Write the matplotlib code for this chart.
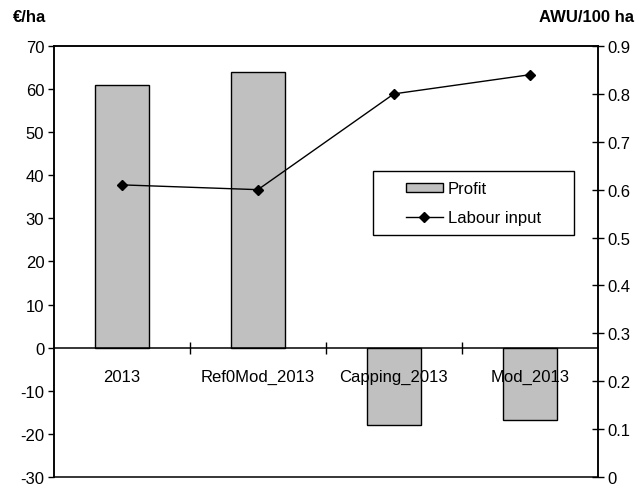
import matplotlib
matplotlib.use('Agg')
import matplotlib.pyplot as plt
from matplotlib.patches import Patch, Rectangle
from matplotlib.lines import Line2D

plt.rcParams['font.family'] = ['Liberation Sans', 'DejaVu Sans']
plt.rcParams['axes.unicode_minus'] = False

scenarios = ['2013', 'Ref0Mod_2013', 'Capping_2013', 'Mod_2013']
profit = [61, 64, -18.0, -16.7]
labour = [0.61, 0.60, 0.80, 0.84]

fig = plt.figure(figsize=(6.4, 4.89), dpi=100)
ax = fig.add_axes([0.0844, 0.0225, 0.8496, 0.8814])
ax.set_axisbelow(False)

x = list(range(len(scenarios)))
ax.bar(x, profit, width=0.4, color='#c0c0c0', edgecolor='black', linewidth=1.0, zorder=2)
ax.set_xlim(-0.5, 3.5)
ax.set_ylim(-30, 70)
ax.set_yticks(range(-30, 80, 10))
ax.tick_params(axis='y', direction='out', length=4, width=1, labelsize=12, pad=3)

# category axis sits on the zero line
ax.spines['bottom'].set_position(('data', 0))
ax.set_xticks([0.5, 1.5, 2.5])
ax.set_xticklabels([])
ax.tick_params(axis='x', which='major', direction='inout', length=9, width=1)
ax.set_xticks(x, minor=True)
ax.set_xticklabels(scenarios, minor=True)
ax.tick_params(axis='x', which='minor', length=0, labelsize=12, pad=15)
for s in ax.spines.values():
    s.set_linewidth(1.1)

ax2 = ax.twinx()
ax2.plot(x, labour, color='black', linewidth=1.0, marker='D', markersize=5, zorder=3)
ax2.set_ylim(0, 0.9)
ax2.set_yticks([i / 10 for i in range(10)])
ax2.set_yticklabels(['{:g}'.format(i / 10) for i in range(10)])
ax2.tick_params(axis='y', direction='inout', length=8, width=1, labelsize=12, pad=3)
for s in ax2.spines.values():
    s.set_linewidth(1.1)

# legend frame, wider than its contents like the original
lx0, lx1, ly0, ly1 = 0.586, 0.956, 0.561, 0.71
ax2.add_patch(Rectangle((lx0, ly0), lx1 - lx0, ly1 - ly0, transform=ax2.transAxes,
                        facecolor='white', edgecolor='black', linewidth=1.0, zorder=4))
handles = [Patch(facecolor='#c0c0c0', edgecolor='black', linewidth=1.0),
           Line2D([], [], color='black', linewidth=1.0, marker='D', markersize=5)]
leg = ax2.legend(handles, ['Profit', 'Labour input'], loc='center',
                 bbox_to_anchor=((lx0 + lx1) / 2, (ly0 + ly1) / 2), fontsize=12,
                 frameon=False, handlelength=2.2, handleheight=0.45, borderpad=0,
                 labelspacing=0.8, handletextpad=0.3, borderaxespad=0)
leg.set_zorder(5)

fig.text(0.02, 0.965, '€/ha', fontsize=12, fontweight='bold', ha='left', va='center')
fig.text(0.99, 0.965, 'AWU/100 ha', fontsize=12, fontweight='bold', ha='right', va='center')

fig.savefig('out.png', dpi=100)
